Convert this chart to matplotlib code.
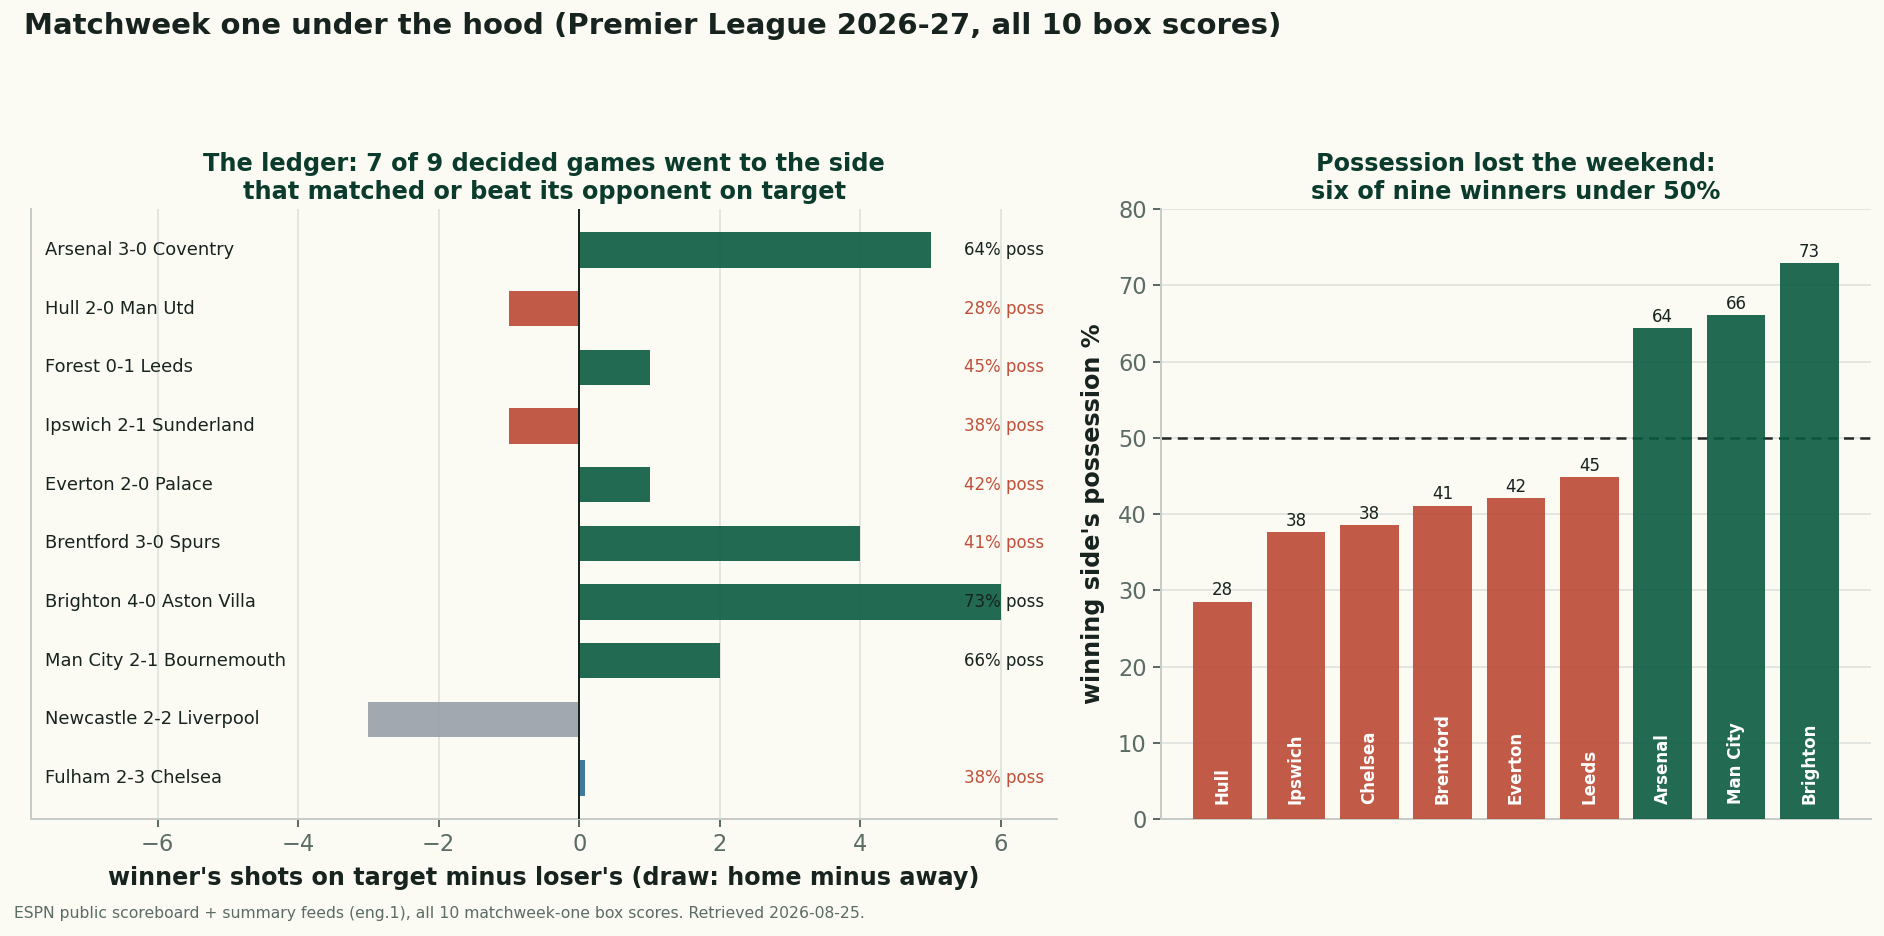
#!/usr/bin/env python3
"""matchweek one: shots on target vs possession of the winners"""

import numpy as np
import matplotlib

matplotlib.use("Agg")
import matplotlib.pyplot as plt

#
# DATA
#
games = [
    "Arsenal 3-0 Coventry",
    "Hull 2-0 Man Utd",
    "Forest 0-1 Leeds",
    "Ipswich 2-1 Sunderland",
    "Everton 2-0 Palace",
    "Brentford 3-0 Spurs",
    "Brighton 4-0 Aston Villa",
    "Man City 2-1 Bournemouth",
    "Newcastle 2-2 Liverpool",
    "Fulham 2-3 Chelsea",
]
# winner's shots on target minus loser's (draw: home minus away)
sot_diff = [5, -1, 1, -1, 1, 4, 6, 2, -3, 0]
is_draw = [False, False, False, False, False, False, False, False, True, False]
# winner's possession % (None for the draw)
game_poss = [64, 28, 45, 38, 42, 41, 73, 66, None, 38]

winners = ["Hull", "Ipswich", "Chelsea", "Brentford", "Everton", "Leeds", "Arsenal", "Man City", "Brighton"]
winner_poss = [28.5, 37.6, 38.5, 41.1, 42.1, 44.8, 64.4, 66.1, 72.9]

#
# STYLE
#
BG = "#fbfaf3"
GREEN = "#0a5b40"
RED = "#bc4935"
GREY = "#979fa9"
BLUE = "#2a6e93"
DARK = "#17231e"
TITLE_C = "#0b3b2c"
MUTED = "#5b6b66"
GRID_C = "#dfe2dd"
SPINE_C = "#c8ccc8"
POSS_RED = "#c0503c"

plt.rcParams["font.family"] = ["DejaVu Sans"]

fig = plt.figure(figsize=(15.7, 7.8), dpi=120, facecolor=BG)

fig.text(
    0.0127,
    0.972,
    "Matchweek one under the hood (Premier League 2026-27, all 10 box scores)",
    fontsize=17.5,
    fontweight="bold",
    color=DARK,
    va="center",
    ha="left",
)
fig.text(
    0.0075,
    0.0245,
    "ESPN public scoreboard + summary feeds (eng.1), all 10 matchweek-one box scores. Retrieved 2026-08-25.",
    fontsize=9.4,
    color=MUTED,
    va="center",
    ha="left",
)

#
# LEFT: the ledger
#
ax1 = fig.add_axes([0.0165, 0.125, 0.5446, 0.6517], facecolor=BG)

ypos = np.arange(len(games))
colors = []
widths = []
for d, dr in zip(sot_diff, is_draw):
    if dr:
        colors.append(GREY)
    elif d > 0:
        colors.append(GREEN)
    elif d < 0:
        colors.append(RED)
    else:
        colors.append(BLUE)
    # keep zero-margin games visible as a sliver
    widths.append(d if d != 0 else 0.08)

ax1.barh(ypos, widths, height=0.6, color=colors, alpha=0.9, zorder=2)
ax1.axvline(0, color=DARK, linewidth=1.2, zorder=3)

ax1.set_xlim(-7.8, 6.8)
ax1.set_ylim(len(games) - 0.3, -0.7)
ax1.set_yticks([])
ax1.set_xticks(np.arange(-6, 7, 2))
ax1.grid(axis="x", color=GRID_C, linewidth=1.0, zorder=0)
ax1.set_axisbelow(True)

for i, name in enumerate(games):
    ax1.text(-7.6, i, name, fontsize=10.7, color=DARK, va="center", ha="left", zorder=4)
    if game_poss[i] is not None:
        c = POSS_RED if game_poss[i] < 50 else DARK
        ax1.text(5.48, i, "{}% poss".format(game_poss[i]), fontsize=10, color=c, va="center", ha="left", zorder=4)

ax1.set_xlabel(
    "winner's shots on target minus loser's (draw: home minus away)",
    fontsize=14.3,
    fontweight="bold",
    color=DARK,
    labelpad=6,
)
ax1.set_title(
    "The ledger: 7 of 9 decided games went to the side\nthat matched or beat its opponent on target",
    fontsize=14.4,
    fontweight="bold",
    color=TITLE_C,
    pad=6,
)

#
# RIGHT: possession of the winners
#
ax2 = fig.add_axes([0.6162, 0.125, 0.3769, 0.6517], facecolor=BG)

xpos = np.arange(len(winners))
bcolors = [RED if p < 50 else GREEN for p in winner_poss]
ax2.bar(xpos, winner_poss, width=0.8, color=bcolors, alpha=0.9, zorder=3)
ax2.axhline(50, color="#222a26", linewidth=1.5, linestyle=(0, (4, 2.5)), zorder=2)

for x, p, team in zip(xpos, winner_poss, winners):
    ax2.text(x, p + 0.3, "{:.0f}".format(p), fontsize=10, color=DARK, ha="center", va="bottom", zorder=4)
    ax2.text(
        x, 2, team, rotation=90, fontsize=10, fontweight="bold", color="white", ha="center", va="bottom", zorder=4
    )

ax2.set_ylim(0, 80)
ax2.set_yticks(np.arange(0, 81, 10))
ax2.set_xticks([])
ax2.grid(axis="y", color=GRID_C, linewidth=1.0, zorder=0)
ax2.set_axisbelow(True)
ax2.set_ylabel("winning side's possession %", fontsize=14.3, fontweight="bold", color=DARK, labelpad=8)
ax2.set_title(
    "Possession lost the weekend:\nsix of nine winners under 50%",
    fontsize=14.4,
    fontweight="bold",
    color=TITLE_C,
    pad=6,
)

for ax in (ax1, ax2):
    ax.spines["top"].set_visible(False)
    ax.spines["right"].set_visible(False)
    ax.spines["left"].set_color(SPINE_C)
    ax.spines["bottom"].set_color(SPINE_C)
    ax.spines["left"].set_linewidth(1.2)
    ax.spines["bottom"].set_linewidth(1.2)
    ax.tick_params(colors=MUTED, labelsize=13.5, length=5, width=1.2)

fig.savefig("out.png", dpi=120, facecolor=BG)
